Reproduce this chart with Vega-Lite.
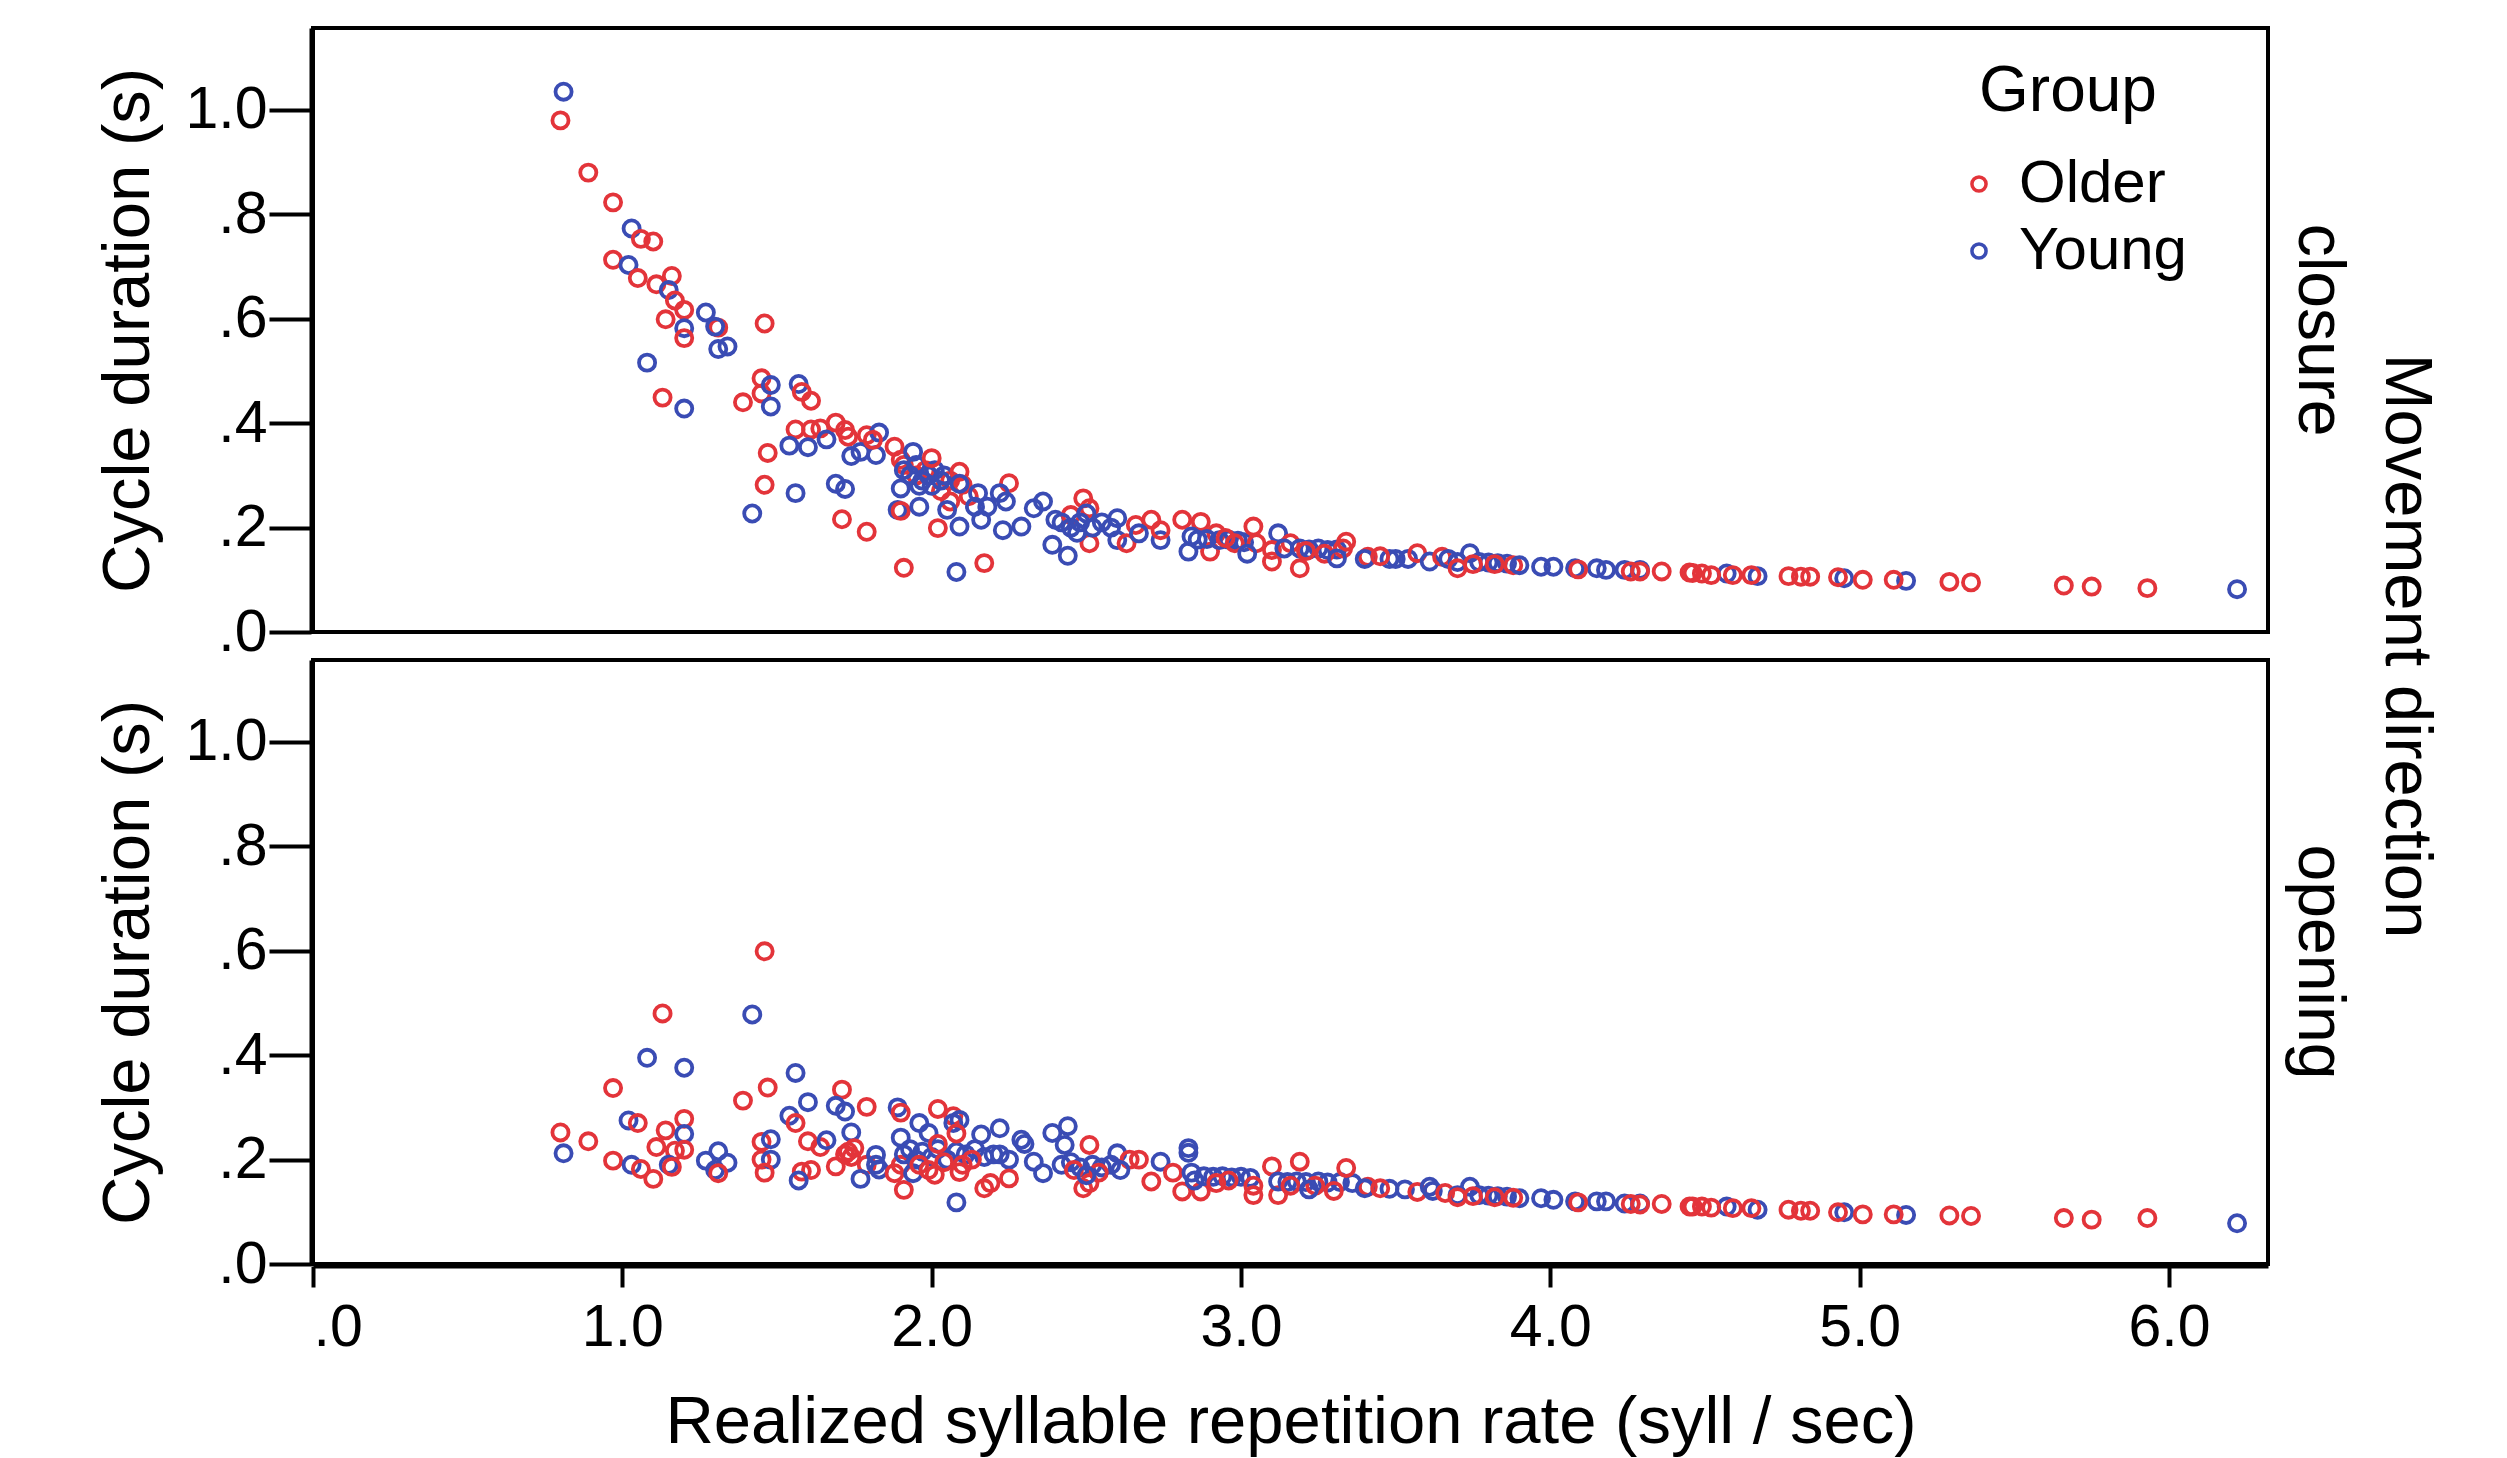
{
  "$schema": "https://vega.github.io/schema/vega-lite/v6.json",
  "background": "white",
  "padding": {"left": 94, "top": 26, "right": 20, "bottom": 10},
  "datasets": {
    "pts": [
      {"d":"closure","g":"Young","x":0.81,"y":1.035},{"d":"closure","g":"Older","x":0.80,"y":0.98},{"d":"closure","g":"Older","x":0.89,"y":0.88},{"d":"closure","g":"Older","x":0.97,"y":0.823},{"d":"closure","g":"Young","x":1.03,"y":0.773},{"d":"closure","g":"Older","x":1.06,"y":0.753},{"d":"closure","g":"Older","x":1.10,"y":0.748},{"d":"closure","g":"Older","x":0.97,"y":0.713},{"d":"closure","g":"Young","x":1.02,"y":0.703},{"d":"closure","g":"Older","x":1.05,"y":0.678},{"d":"closure","g":"Older","x":1.11,"y":0.666},{"d":"closure","g":"Older","x":1.16,"y":0.682},{"d":"closure","g":"Young","x":1.15,"y":0.655},{"d":"closure","g":"Older","x":1.17,"y":0.635},{"d":"closure","g":"Older","x":1.20,"y":0.617},{"d":"closure","g":"Older","x":1.14,"y":0.599},{"d":"closure","g":"Young","x":1.20,"y":0.582},{"d":"closure","g":"Older","x":1.20,"y":0.563},{"d":"closure","g":"Young","x":1.27,"y":0.612},{"d":"closure","g":"Older","x":1.31,"y":0.583},{"d":"closure","g":"Young","x":1.30,"y":0.585},{"d":"closure","g":"Young","x":1.31,"y":0.542},{"d":"closure","g":"Young","x":1.34,"y":0.547},{"d":"closure","g":"Young","x":1.08,"y":0.516},{"d":"closure","g":"Older","x":1.13,"y":0.449},{"d":"closure","g":"Young","x":1.20,"y":0.428},{"d":"closure","g":"Older","x":1.46,"y":0.591},{"d":"closure","g":"Older","x":1.45,"y":0.486},{"d":"closure","g":"Older","x":1.45,"y":0.457},{"d":"closure","g":"Young","x":1.48,"y":0.473},{"d":"closure","g":"Young","x":1.48,"y":0.432},{"d":"closure","g":"Older","x":1.39,"y":0.44},{"d":"closure","g":"Young","x":1.57,"y":0.475},{"d":"closure","g":"Older","x":1.58,"y":0.46},{"d":"closure","g":"Older","x":1.61,"y":0.443},{"d":"closure","g":"Older","x":1.47,"y":0.343},{"d":"closure","g":"Older","x":1.46,"y":0.282},{"d":"closure","g":"Young","x":1.42,"y":0.227},{"d":"closure","g":"Older","x":1.56,"y":0.388},{"d":"closure","g":"Older","x":1.61,"y":0.388},{"d":"closure","g":"Older","x":1.64,"y":0.39},{"d":"closure","g":"Young","x":1.54,"y":0.357},{"d":"closure","g":"Young","x":1.60,"y":0.354},{"d":"closure","g":"Young","x":1.66,"y":0.369},{"d":"closure","g":"Older","x":1.69,"y":0.401},{"d":"closure","g":"Older","x":1.72,"y":0.387},{"d":"closure","g":"Older","x":1.73,"y":0.374},{"d":"closure","g":"Young","x":1.56,"y":0.266},{"d":"closure","g":"Young","x":1.69,"y":0.284},{"d":"closure","g":"Young","x":1.72,"y":0.274},{"d":"closure","g":"Older","x":1.71,"y":0.216},{"d":"closure","g":"Older","x":1.79,"y":0.192},{"d":"closure","g":"Older","x":1.79,"y":0.377},{"d":"closure","g":"Young","x":1.83,"y":0.382},{"d":"closure","g":"Young","x":1.74,"y":0.337},{"d":"closure","g":"Young","x":1.77,"y":0.345},{"d":"closure","g":"Young","x":1.82,"y":0.339},{"d":"closure","g":"Older","x":1.81,"y":0.368},{"d":"closure","g":"Older","x":1.88,"y":0.355},{"d":"closure","g":"Older","x":1.90,"y":0.33},{"d":"closure","g":"Older","x":1.91,"y":0.32},{"d":"closure","g":"Young","x":1.94,"y":0.345},
      {"d":"closure","g":"Older","x":1.95,"y":0.30},{"d":"closure","g":"Older","x":1.98,"y":0.31},{"d":"closure","g":"Older","x":2.03,"y":0.27},{"d":"closure","g":"Older","x":2.06,"y":0.29},{"d":"closure","g":"Older","x":2.12,"y":0.26},{"d":"closure","g":"Older","x":2.06,"y":0.25},
      {"d":"closure","g":"Young","x":1.91,"y":0.31},{"d":"closure","g":"Young","x":1.93,"y":0.30},{"d":"closure","g":"Young","x":1.95,"y":0.32},{"d":"closure","g":"Young","x":1.97,"y":0.29},{"d":"closure","g":"Young","x":1.99,"y":0.30},{"d":"closure","g":"Young","x":2.01,"y":0.31},{"d":"closure","g":"Young","x":2.03,"y":0.29},{"d":"closure","g":"Young","x":1.96,"y":0.28},{"d":"closure","g":"Young","x":2.00,"y":0.28},{"d":"closure","g":"Young","x":2.04,"y":0.30},
      {"d":"closure","g":"Older","x":2.00,"y":0.333},{"d":"closure","g":"Older","x":2.09,"y":0.307},{"d":"closure","g":"Older","x":2.10,"y":0.282},{"d":"closure","g":"Young","x":2.09,"y":0.284},{"d":"closure","g":"Young","x":1.90,"y":0.275},{"d":"closure","g":"Young","x":1.89,"y":0.234},{"d":"closure","g":"Older","x":1.90,"y":0.232},{"d":"closure","g":"Young","x":1.96,"y":0.24},{"d":"closure","g":"Older","x":2.02,"y":0.199},{"d":"closure","g":"Young","x":2.05,"y":0.234},{"d":"closure","g":"Young","x":2.09,"y":0.202},{"d":"closure","g":"Young","x":2.16,"y":0.215},{"d":"closure","g":"Young","x":2.14,"y":0.24},{"d":"closure","g":"Young","x":2.18,"y":0.24},{"d":"closure","g":"Young","x":2.15,"y":0.266},{"d":"closure","g":"Older","x":1.91,"y":0.123},{"d":"closure","g":"Young","x":2.08,"y":0.115},{"d":"closure","g":"Older","x":2.17,"y":0.132},
      {"d":"closure","g":"Older","x":2.25,"y":0.285},{"d":"closure","g":"Young","x":2.22,"y":0.266},{"d":"closure","g":"Young","x":2.24,"y":0.25},{"d":"closure","g":"Young","x":2.23,"y":0.195},{"d":"closure","g":"Young","x":2.29,"y":0.202},{"d":"closure","g":"Young","x":2.33,"y":0.237},{"d":"closure","g":"Young","x":2.36,"y":0.25},{"d":"closure","g":"Young","x":2.40,"y":0.215},{"d":"closure","g":"Young","x":2.39,"y":0.167},{"d":"closure","g":"Young","x":2.44,"y":0.146},{"d":"closure","g":"Older","x":2.49,"y":0.256},{"d":"closure","g":"Older","x":2.51,"y":0.237},{"d":"closure","g":"Older","x":2.45,"y":0.224},{"d":"closure","g":"Older","x":2.51,"y":0.17},
      {"d":"closure","g":"Young","x":2.42,"y":0.21},{"d":"closure","g":"Young","x":2.45,"y":0.20},{"d":"closure","g":"Young","x":2.48,"y":0.21},{"d":"closure","g":"Young","x":2.52,"y":0.20},{"d":"closure","g":"Young","x":2.55,"y":0.21},{"d":"closure","g":"Young","x":2.58,"y":0.20},{"d":"closure","g":"Young","x":2.47,"y":0.19},{"d":"closure","g":"Young","x":2.50,"y":0.227},{"d":"closure","g":"Young","x":2.60,"y":0.218},{"d":"closure","g":"Young","x":2.60,"y":0.176},
      {"d":"closure","g":"Older","x":2.63,"y":0.17},{"d":"closure","g":"Older","x":2.66,"y":0.205},{"d":"closure","g":"Older","x":2.71,"y":0.215},{"d":"closure","g":"Young","x":2.67,"y":0.189},{"d":"closure","g":"Young","x":2.74,"y":0.176},{"d":"closure","g":"Older","x":2.74,"y":0.195},{"d":"closure","g":"Older","x":2.81,"y":0.215},{"d":"closure","g":"Older","x":2.87,"y":0.211},{"d":"closure","g":"Older","x":2.92,"y":0.189},{"d":"closure","g":"Young","x":2.84,"y":0.183},{"d":"closure","g":"Young","x":2.83,"y":0.154},{"d":"closure","g":"Older","x":2.90,"y":0.154},
      {"d":"closure","g":"Young","x":2.86,"y":0.177},{"d":"closure","g":"Young","x":2.89,"y":0.178},{"d":"closure","g":"Young","x":2.93,"y":0.176},{"d":"closure","g":"Young","x":2.96,"y":0.177},{"d":"closure","g":"Young","x":2.99,"y":0.175},{"d":"closure","g":"Young","x":3.01,"y":0.172},{"d":"closure","g":"Older","x":2.95,"y":0.18},{"d":"closure","g":"Older","x":2.98,"y":0.17},
      {"d":"closure","g":"Older","x":3.04,"y":0.202},{"d":"closure","g":"Older","x":3.05,"y":0.17},{"d":"closure","g":"Young","x":3.02,"y":0.15},{"d":"closure","g":"Young","x":3.12,"y":0.189},{"d":"closure","g":"Older","x":3.10,"y":0.157},{"d":"closure","g":"Older","x":3.10,"y":0.135},{"d":"closure","g":"Older","x":3.19,"y":0.122},{"d":"closure","g":"Older","x":3.16,"y":0.17},{"d":"closure","g":"Young","x":3.14,"y":0.16},
      {"d":"closure","g":"Young","x":3.19,"y":0.16},{"d":"closure","g":"Young","x":3.22,"y":0.158},{"d":"closure","g":"Young","x":3.25,"y":0.16},{"d":"closure","g":"Young","x":3.28,"y":0.157},{"d":"closure","g":"Young","x":3.31,"y":0.158},{"d":"closure","g":"Older","x":3.21,"y":0.155},{"d":"closure","g":"Older","x":3.27,"y":0.15},
      {"d":"closure","g":"Older","x":3.34,"y":0.173},{"d":"closure","g":"Older","x":3.33,"y":0.16},{"d":"closure","g":"Young","x":3.31,"y":0.141},{"d":"closure","g":"Older","x":3.41,"y":0.144},{"d":"closure","g":"Young","x":3.40,"y":0.14},{"d":"closure","g":"Young","x":3.48,"y":0.14},{"d":"closure","g":"Young","x":3.50,"y":0.14},{"d":"closure","g":"Young","x":3.54,"y":0.14},{"d":"closure","g":"Older","x":3.45,"y":0.145},{"d":"closure","g":"Older","x":3.57,"y":0.151},{"d":"closure","g":"Young","x":3.61,"y":0.135},{"d":"closure","g":"Older","x":3.65,"y":0.144},{"d":"closure","g":"Young","x":3.67,"y":0.14},
      {"d":"closure","g":"Young","x":3.70,"y":0.134},{"d":"closure","g":"Young","x":3.74,"y":0.151},{"d":"closure","g":"Young","x":3.77,"y":0.134},{"d":"closure","g":"Young","x":3.80,"y":0.133},{"d":"closure","g":"Young","x":3.83,"y":0.132},{"d":"closure","g":"Young","x":3.86,"y":0.131},{"d":"closure","g":"Older","x":3.70,"y":0.122},{"d":"closure","g":"Older","x":3.75,"y":0.13},{"d":"closure","g":"Older","x":3.82,"y":0.13},{"d":"closure","g":"Older","x":3.88,"y":0.128},
      {"d":"closure","g":"Young","x":3.90,"y":0.128},{"d":"closure","g":"Young","x":3.97,"y":0.125},{"d":"closure","g":"Young","x":4.01,"y":0.125},{"d":"closure","g":"Young","x":4.08,"y":0.122},{"d":"closure","g":"Young","x":4.15,"y":0.122},{"d":"closure","g":"Young","x":4.18,"y":0.119},{"d":"closure","g":"Young","x":4.24,"y":0.119},{"d":"closure","g":"Young","x":4.29,"y":0.119},{"d":"closure","g":"Young","x":4.57,"y":0.112},{"d":"closure","g":"Young","x":4.67,"y":0.107},{"d":"closure","g":"Young","x":4.95,"y":0.103},{"d":"closure","g":"Young","x":5.15,"y":0.098},{"d":"closure","g":"Young","x":6.22,"y":0.082},
      {"d":"closure","g":"Older","x":4.09,"y":0.12},{"d":"closure","g":"Older","x":4.26,"y":0.116},{"d":"closure","g":"Older","x":4.29,"y":0.116},{"d":"closure","g":"Older","x":4.36,"y":0.116},{"d":"closure","g":"Older","x":4.45,"y":0.114},{"d":"closure","g":"Older","x":4.46,"y":0.113},{"d":"closure","g":"Older","x":4.49,"y":0.112},{"d":"closure","g":"Older","x":4.52,"y":0.109},{"d":"closure","g":"Older","x":4.59,"y":0.109},{"d":"closure","g":"Older","x":4.65,"y":0.109},{"d":"closure","g":"Older","x":4.77,"y":0.107},{"d":"closure","g":"Older","x":4.81,"y":0.106},{"d":"closure","g":"Older","x":4.84,"y":0.106},{"d":"closure","g":"Older","x":4.93,"y":0.105},{"d":"closure","g":"Older","x":5.01,"y":0.10},{"d":"closure","g":"Older","x":5.11,"y":0.10},{"d":"closure","g":"Older","x":5.29,"y":0.096},{"d":"closure","g":"Older","x":5.36,"y":0.095},{"d":"closure","g":"Older","x":5.66,"y":0.089},{"d":"closure","g":"Older","x":5.75,"y":0.087},{"d":"closure","g":"Older","x":5.93,"y":0.084},

      {"d":"opening","g":"Older","x":1.46,"y":0.599},{"d":"opening","g":"Older","x":1.13,"y":0.48},{"d":"opening","g":"Young","x":1.42,"y":0.478},{"d":"opening","g":"Young","x":1.08,"y":0.395},{"d":"opening","g":"Young","x":1.20,"y":0.376},{"d":"opening","g":"Older","x":0.97,"y":0.337},{"d":"opening","g":"Older","x":1.47,"y":0.338},{"d":"opening","g":"Older","x":1.39,"y":0.313},{"d":"opening","g":"Young","x":1.56,"y":0.366},{"d":"opening","g":"Young","x":1.60,"y":0.31},{"d":"opening","g":"Older","x":1.71,"y":0.334},{"d":"opening","g":"Young","x":1.69,"y":0.303},{"d":"opening","g":"Young","x":1.72,"y":0.292},{"d":"opening","g":"Older","x":1.79,"y":0.301},{"d":"opening","g":"Young","x":1.89,"y":0.30},{"d":"opening","g":"Older","x":1.90,"y":0.29},{"d":"opening","g":"Older","x":2.02,"y":0.297},{"d":"opening","g":"Older","x":2.07,"y":0.283},{"d":"opening","g":"Young","x":2.09,"y":0.276},{"d":"opening","g":"Young","x":2.07,"y":0.27},{"d":"opening","g":"Young","x":1.96,"y":0.27},{"d":"opening","g":"Young","x":1.99,"y":0.251},{"d":"opening","g":"Young","x":1.90,"y":0.242},{"d":"opening","g":"Young","x":1.74,"y":0.252},
      {"d":"opening","g":"Older","x":0.80,"y":0.252},{"d":"opening","g":"Young","x":0.81,"y":0.212},{"d":"opening","g":"Older","x":0.89,"y":0.235},{"d":"opening","g":"Older","x":0.97,"y":0.198},{"d":"opening","g":"Young","x":1.02,"y":0.275},{"d":"opening","g":"Older","x":1.05,"y":0.27},{"d":"opening","g":"Young","x":1.03,"y":0.19},{"d":"opening","g":"Older","x":1.06,"y":0.182},{"d":"opening","g":"Older","x":1.10,"y":0.163},{"d":"opening","g":"Older","x":1.14,"y":0.256},{"d":"opening","g":"Older","x":1.11,"y":0.224},{"d":"opening","g":"Older","x":1.17,"y":0.217},{"d":"opening","g":"Older","x":1.20,"y":0.278},{"d":"opening","g":"Young","x":1.20,"y":0.249},{"d":"opening","g":"Older","x":1.20,"y":0.219},{"d":"opening","g":"Young","x":1.15,"y":0.19},{"d":"opening","g":"Older","x":1.16,"y":0.186},{"d":"opening","g":"Young","x":1.27,"y":0.198},{"d":"opening","g":"Young","x":1.31,"y":0.216},{"d":"opening","g":"Young","x":1.34,"y":0.194},{"d":"opening","g":"Young","x":1.30,"y":0.18},{"d":"opening","g":"Older","x":1.31,"y":0.174},
      {"d":"opening","g":"Older","x":1.45,"y":0.234},{"d":"opening","g":"Young","x":1.48,"y":0.239},{"d":"opening","g":"Older","x":1.45,"y":0.2},{"d":"opening","g":"Young","x":1.48,"y":0.2},{"d":"opening","g":"Older","x":1.46,"y":0.175},{"d":"opening","g":"Young","x":1.54,"y":0.284},{"d":"opening","g":"Older","x":1.56,"y":0.27},{"d":"opening","g":"Older","x":1.60,"y":0.235},{"d":"opening","g":"Older","x":1.64,"y":0.224},{"d":"opening","g":"Young","x":1.66,"y":0.237},{"d":"opening","g":"Older","x":1.61,"y":0.18},{"d":"opening","g":"Older","x":1.58,"y":0.177},{"d":"opening","g":"Young","x":1.57,"y":0.16},{"d":"opening","g":"Older","x":1.69,"y":0.187},{"d":"opening","g":"Older","x":1.72,"y":0.21},{"d":"opening","g":"Older","x":1.74,"y":0.205},{"d":"opening","g":"Older","x":1.73,"y":0.215},{"d":"opening","g":"Older","x":1.75,"y":0.222},{"d":"opening","g":"Older","x":1.79,"y":0.19},{"d":"opening","g":"Young","x":1.82,"y":0.209},{"d":"opening","g":"Young","x":1.82,"y":0.19},{"d":"opening","g":"Young","x":1.83,"y":0.181},{"d":"opening","g":"Young","x":1.77,"y":0.163},{"d":"opening","g":"Older","x":1.91,"y":0.142},{"d":"opening","g":"Older","x":1.88,"y":0.174},{"d":"opening","g":"Older","x":1.90,"y":0.19},{"d":"opening","g":"Young","x":1.94,"y":0.174},
      {"d":"opening","g":"Young","x":1.91,"y":0.21},{"d":"opening","g":"Young","x":1.93,"y":0.22},{"d":"opening","g":"Young","x":1.95,"y":0.20},{"d":"opening","g":"Young","x":1.97,"y":0.215},{"d":"opening","g":"Young","x":2.00,"y":0.205},{"d":"opening","g":"Young","x":2.02,"y":0.22},{"d":"opening","g":"Young","x":2.05,"y":0.20},{"d":"opening","g":"Young","x":2.08,"y":0.215},{"d":"opening","g":"Young","x":2.11,"y":0.21},{"d":"opening","g":"Young","x":2.14,"y":0.22},{"d":"opening","g":"Young","x":2.17,"y":0.205},{"d":"opening","g":"Young","x":2.20,"y":0.21},
      {"d":"opening","g":"Older","x":1.96,"y":0.19},{"d":"opening","g":"Older","x":1.99,"y":0.18},{"d":"opening","g":"Older","x":2.04,"y":0.195},{"d":"opening","g":"Older","x":2.10,"y":0.19},{"d":"opening","g":"Older","x":2.13,"y":0.2},{"d":"opening","g":"Older","x":2.08,"y":0.25},{"d":"opening","g":"Older","x":2.02,"y":0.23},{"d":"opening","g":"Older","x":2.01,"y":0.171},{"d":"opening","g":"Older","x":2.09,"y":0.176},{"d":"opening","g":"Older","x":2.17,"y":0.145},{"d":"opening","g":"Young","x":2.08,"y":0.118},{"d":"opening","g":"Young","x":2.16,"y":0.248},{"d":"opening","g":"Young","x":2.22,"y":0.26},
      {"d":"opening","g":"Young","x":2.29,"y":0.238},{"d":"opening","g":"Young","x":2.30,"y":0.23},{"d":"opening","g":"Young","x":2.39,"y":0.251},{"d":"opening","g":"Young","x":2.44,"y":0.264},{"d":"opening","g":"Young","x":2.43,"y":0.228},{"d":"opening","g":"Young","x":2.33,"y":0.196},{"d":"opening","g":"Young","x":2.36,"y":0.174},{"d":"opening","g":"Young","x":2.22,"y":0.21},{"d":"opening","g":"Young","x":2.25,"y":0.2},{"d":"opening","g":"Older","x":2.25,"y":0.164},{"d":"opening","g":"Older","x":2.19,"y":0.155},{"d":"opening","g":"Older","x":2.51,"y":0.228},
      {"d":"opening","g":"Young","x":2.42,"y":0.19},{"d":"opening","g":"Young","x":2.45,"y":0.195},{"d":"opening","g":"Young","x":2.48,"y":0.185},{"d":"opening","g":"Young","x":2.52,"y":0.19},{"d":"opening","g":"Young","x":2.55,"y":0.185},{"d":"opening","g":"Young","x":2.58,"y":0.19},{"d":"opening","g":"Older","x":2.49,"y":0.145},{"d":"opening","g":"Older","x":2.51,"y":0.155},{"d":"opening","g":"Older","x":2.46,"y":0.18},{"d":"opening","g":"Older","x":2.54,"y":0.175},{"d":"opening","g":"Young","x":2.50,"y":0.17},{"d":"opening","g":"Young","x":2.60,"y":0.212},{"d":"opening","g":"Older","x":2.64,"y":0.2},{"d":"opening","g":"Older","x":2.67,"y":0.2},{"d":"opening","g":"Young","x":2.61,"y":0.18},{"d":"opening","g":"Older","x":2.71,"y":0.158},{"d":"opening","g":"Young","x":2.74,"y":0.196},{"d":"opening","g":"Older","x":2.78,"y":0.175},{"d":"opening","g":"Older","x":2.81,"y":0.139},{"d":"opening","g":"Young","x":2.83,"y":0.222},{"d":"opening","g":"Young","x":2.83,"y":0.213},{"d":"opening","g":"Older","x":2.87,"y":0.139},{"d":"opening","g":"Young","x":2.84,"y":0.175},{"d":"opening","g":"Young","x":2.85,"y":0.16},
      {"d":"opening","g":"Young","x":2.88,"y":0.168},{"d":"opening","g":"Young","x":2.91,"y":0.167},{"d":"opening","g":"Young","x":2.94,"y":0.168},{"d":"opening","g":"Young","x":2.97,"y":0.166},{"d":"opening","g":"Young","x":3.00,"y":0.167},{"d":"opening","g":"Young","x":3.03,"y":0.165},{"d":"opening","g":"Older","x":2.92,"y":0.155},{"d":"opening","g":"Older","x":2.96,"y":0.16},{"d":"opening","g":"Older","x":3.04,"y":0.132},{"d":"opening","g":"Older","x":3.04,"y":0.15},{"d":"opening","g":"Older","x":3.10,"y":0.187},{"d":"opening","g":"Older","x":3.12,"y":0.132},{"d":"opening","g":"Older","x":3.19,"y":0.196},
      {"d":"opening","g":"Young","x":3.12,"y":0.158},{"d":"opening","g":"Young","x":3.15,"y":0.157},{"d":"opening","g":"Young","x":3.18,"y":0.158},{"d":"opening","g":"Young","x":3.21,"y":0.157},{"d":"opening","g":"Young","x":3.25,"y":0.158},{"d":"opening","g":"Young","x":3.28,"y":0.156},{"d":"opening","g":"Young","x":3.32,"y":0.157},{"d":"opening","g":"Young","x":3.36,"y":0.155},{"d":"opening","g":"Older","x":3.16,"y":0.15},{"d":"opening","g":"Older","x":3.24,"y":0.15},{"d":"opening","g":"Older","x":3.34,"y":0.184},{"d":"opening","g":"Young","x":3.22,"y":0.143},{"d":"opening","g":"Older","x":3.30,"y":0.14},{"d":"opening","g":"Older","x":3.41,"y":0.148},{"d":"opening","g":"Young","x":3.40,"y":0.145},{"d":"opening","g":"Young","x":3.48,"y":0.144},{"d":"opening","g":"Young","x":3.53,"y":0.143},{"d":"opening","g":"Older","x":3.45,"y":0.145},{"d":"opening","g":"Older","x":3.57,"y":0.138},{"d":"opening","g":"Young","x":3.61,"y":0.148},{"d":"opening","g":"Young","x":3.62,"y":0.14},{"d":"opening","g":"Older","x":3.66,"y":0.136},
      {"d":"opening","g":"Young","x":3.70,"y":0.132},{"d":"opening","g":"Young","x":3.74,"y":0.148},{"d":"opening","g":"Young","x":3.77,"y":0.132},{"d":"opening","g":"Young","x":3.80,"y":0.131},{"d":"opening","g":"Young","x":3.83,"y":0.13},{"d":"opening","g":"Young","x":3.86,"y":0.129},{"d":"opening","g":"Young","x":3.90,"y":0.126},{"d":"opening","g":"Young","x":3.97,"y":0.126},{"d":"opening","g":"Young","x":4.01,"y":0.123},{"d":"opening","g":"Young","x":4.08,"y":0.12},{"d":"opening","g":"Young","x":4.15,"y":0.12},{"d":"opening","g":"Young","x":4.18,"y":0.12},{"d":"opening","g":"Young","x":4.24,"y":0.116},{"d":"opening","g":"Young","x":4.29,"y":0.116},{"d":"opening","g":"Young","x":4.57,"y":0.11},{"d":"opening","g":"Young","x":4.67,"y":0.104},{"d":"opening","g":"Young","x":4.95,"y":0.099},{"d":"opening","g":"Young","x":5.15,"y":0.094},{"d":"opening","g":"Young","x":6.22,"y":0.078},
      {"d":"opening","g":"Older","x":3.70,"y":0.128},{"d":"opening","g":"Older","x":3.75,"y":0.13},{"d":"opening","g":"Older","x":3.82,"y":0.128},{"d":"opening","g":"Older","x":3.88,"y":0.127},{"d":"opening","g":"Older","x":4.09,"y":0.118},{"d":"opening","g":"Older","x":4.26,"y":0.115},{"d":"opening","g":"Older","x":4.29,"y":0.114},{"d":"opening","g":"Older","x":4.36,"y":0.115},{"d":"opening","g":"Older","x":4.45,"y":0.11},{"d":"opening","g":"Older","x":4.46,"y":0.11},{"d":"opening","g":"Older","x":4.49,"y":0.11},{"d":"opening","g":"Older","x":4.52,"y":0.108},{"d":"opening","g":"Older","x":4.59,"y":0.107},{"d":"opening","g":"Older","x":4.65,"y":0.107},{"d":"opening","g":"Older","x":4.77,"y":0.104},{"d":"opening","g":"Older","x":4.81,"y":0.102},{"d":"opening","g":"Older","x":4.84,"y":0.102},{"d":"opening","g":"Older","x":4.93,"y":0.099},{"d":"opening","g":"Older","x":5.01,"y":0.095},{"d":"opening","g":"Older","x":5.11,"y":0.095},{"d":"opening","g":"Older","x":5.29,"y":0.093},{"d":"opening","g":"Older","x":5.36,"y":0.092},{"d":"opening","g":"Older","x":5.66,"y":0.088},{"d":"opening","g":"Older","x":5.75,"y":0.085},{"d":"opening","g":"Older","x":5.93,"y":0.088}
    ]
  },
  "data": {"name": "pts"},
  "facet": {
    "row": {
      "field": "d", "type": "nominal", "sort": ["closure", "opening"],
      "title": "Movement direction",
      "header": {
        "labelOrient": "right", "labelAngle": 90, "labelFontSize": 66, "labelFont": "Liberation Sans",
        "labelColor": "black", "labelPadding": 15,
        "titleOrient": "right", "titleAngle": 90, "titleFontSize": 67, "titleFont": "Liberation Sans",
        "titleColor": "black", "titleFontWeight": "normal", "titlePadding": 10
      }
    }
  },
  "spacing": {"row": 24},
  "spec": {
    "width": 1955,
    "height": 604,
    "mark": {"type": "point", "shape": "circle", "filled": false, "size": 260, "strokeWidth": 3.8, "opacity": 1},
    "encoding": {
      "x": {
        "field": "x", "type": "quantitative",
        "scale": {"domain": [0, 6.32], "nice": false, "zero": false},
        "axis": {
          "title": "Realized syllable repetition rate (syll / sec)",
          "values": [0, 1, 2, 3, 4, 5, 6],
          "labelExpr": "datum.value < 1 ? replace(format(datum.value, '.1f'), '0.', '.') : format(datum.value, '.1f')",
          "tickSize": 21, "labelPadding": 11, "titlePadding": 32, "grid": false
        }
      },
      "y": {
        "field": "y", "type": "quantitative",
        "scale": {"domain": [0, 1.157], "nice": false, "zero": false},
        "axis": {
          "title": "Cycle duration (s)",
          "values": [0, 0.2, 0.4, 0.6, 0.8, 1.0],
          "labelExpr": "datum.value < 1 ? replace(format(datum.value, '.1f'), '0.', '.') : format(datum.value, '.1f')",
          "tickSize": 42, "labelPadding": 2, "titlePadding": 22, "grid": false
        }
      },
      "color": {
        "field": "g", "type": "nominal",
        "scale": {"domain": ["Older", "Young"], "range": ["#e3343a", "#3a4cb4"]},
        "legend": {
          "title": "Group", "orient": "none", "legendX": 1636, "legendY": 32,
          "titleFontSize": 64, "titleFont": "Liberation Sans", "titleFontWeight": "normal", "titleColor": "black",
          "titleAnchor": "middle", "titlePadding": 30, "titleLimit": 0,
          "labelFontSize": 60, "labelFont": "Liberation Sans", "labelColor": "black", "labelOffset": 10, "labelLimit": 0,
          "symbolType": "circle", "symbolSize": 200, "symbolStrokeWidth": 3.5, "symbolFillColor": "transparent",
          "rowPadding": 7
        }
      }
    }
  },
  "config": {
    "font": "Liberation Sans",
    "view": {"stroke": "black", "strokeWidth": 4},
    "axis": {
      "domainColor": "black", "domainWidth": 4, "tickColor": "black", "tickWidth": 4,
      "labelFont": "Liberation Sans", "labelFontSize": 59, "labelColor": "black",
      "titleFont": "Liberation Sans", "titleFontSize": 67, "titleFontWeight": "normal", "titleColor": "black"
    }
  }
}
